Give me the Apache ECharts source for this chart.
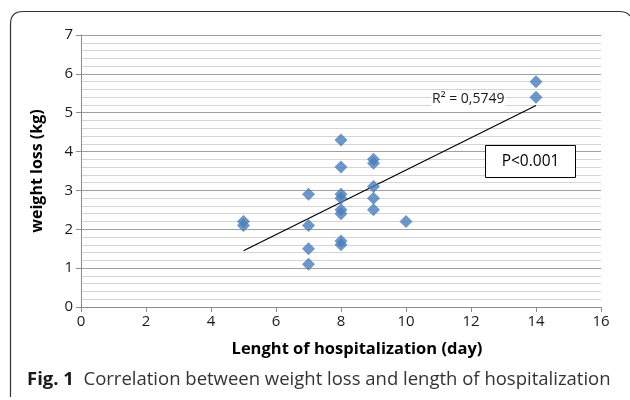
<!DOCTYPE html>
<html><head><meta charset="utf-8">
<script src="https://cdn.jsdelivr.net/npm/echarts@6/dist/echarts.min.js"></script>
<style>html,body{margin:0;padding:0;background:#fff}#c{width:630px;height:400px}</style>
</head><body><div id="c"></div>
<script>
var days = [5,5,7,7,7,7,8,8,8,8,8,8,8,8,9,9,9,9,9,10,14,14];
var weightLoss = [2.2,2.1,2.9,2.1,1.5,1.1,4.3,3.6,2.9,2.8,2.5,2.4,1.7,1.6,3.8,3.7,3.1,2.8,2.5,2.2,5.8,5.4];
var xTicks = [0,2,4,6,8,10,12,14,16];
var yTicks = [0,1,2,3,4,5,6,7];
var r2Label = 'R\u00b2 = 0,5749';
var pLabel = 'P<0.001';

// least-squares trendline from the data
var n = days.length, sx=0, sy=0, sxx=0, sxy=0;
for (var i=0;i<n;i++){sx+=days[i];sy+=weightLoss[i];sxx+=days[i]*days[i];sxy+=days[i]*weightLoss[i];}
var slope=(n*sxy-sx*sy)/(n*sxx-sx*sx), icpt=(sy-slope*sx)/n;
var xMin=Math.min.apply(null,days), xMax=Math.max.apply(null,days);
var trend=[[xMin,icpt+slope*xMin],[xMax,icpt+slope*xMax]];
var pts = days.map(function(d,i){return [d,weightLoss[i]];});

var font='"Open Sans", "Noto Sans", sans-serif';
var frameStyle={fill:null,stroke:'#333',lineWidth:1.2};
var chart=echarts.init(document.getElementById('c'),null,{renderer:'canvas'});
chart.setOption({
  animation:false,
  grid:{left:81,right:29,top:35,bottom:93,containLabel:false},
  xAxis:{type:'value',min:xTicks[0],max:xTicks[xTicks.length-1],interval:2,
    axisLine:{show:true,lineStyle:{color:'#8c8c8c',width:1}},
    axisTick:{show:true,length:5,lineStyle:{color:'#8c8c8c'}},
    splitLine:{show:false},
    axisLabel:{color:'#1a1a1a',fontSize:15,fontFamily:font,margin:7},
    name:'Lenght of hospitalization (day)',nameLocation:'middle',nameGap:34,
    nameTextStyle:{color:'#000',fontSize:16.5,fontWeight:'bold',fontFamily:font,padding:[0,0,0,32]}},
  yAxis:{type:'value',min:yTicks[0],max:yTicks[yTicks.length-1],interval:1,
    axisLine:{show:true,lineStyle:{color:'#8c8c8c',width:1}},
    axisTick:{show:true,length:5,lineStyle:{color:'#8c8c8c'}},
    splitLine:{show:true,lineStyle:{color:'#a0a0a0',width:1}},
    minorTick:{show:false,splitNumber:5},
    minorSplitLine:{show:true,lineStyle:{color:'#d4d4d4',width:1}},
    axisLabel:{color:'#1a1a1a',fontSize:15,fontFamily:font,margin:8},
    name:'weight loss (kg)',nameLocation:'middle',nameGap:36,nameRotate:90,
    nameTextStyle:{color:'#000',fontSize:16,fontWeight:'bold',fontFamily:font}},
  series:[
    {type:'line',data:trend,symbol:'none',lineStyle:{color:'#000',width:1.2},z:3,silent:true},
    {type:'scatter',data:pts,symbol:'diamond',symbolSize:13,itemStyle:{color:'#4a7dbb'},z:4}
  ],
  graphic:[
    {type:'polyline',shape:{points:[[10.5,397],[10.5,24]]},style:frameStyle,silent:true},
    {type:'bezierCurve',shape:{x1:10.5,y1:24,cpx1:10.5,cpy1:11.5,x2:23,y2:11.5},style:frameStyle,silent:true},
    {type:'polyline',shape:{points:[[23,11.5],[619,11.5]]},style:frameStyle,silent:true},
    {type:'bezierCurve',shape:{x1:619,y1:11.5,cpx1:627,cpy1:11.5,x2:630,y2:16},style:frameStyle,silent:true},
    {type:'text',left:431,top:91,z:10,style:{text:r2Label,fill:'#1a1a1a',font:'14px '+font,backgroundColor:'#fff',padding:[1,1,1,1]}},
    {type:'rect',shape:{x:485.5,y:145.5,width:90,height:32},style:{fill:'#fff',stroke:'#000',lineWidth:1},z:10},
    {type:'text',x:530.5,y:161.5,style:{text:pLabel,fill:'#000',font:'15.5px '+font,align:'center',verticalAlign:'middle'},z:11},
    {type:'text',left:27,top:370,style:{rich:{b:{fontWeight:'bold',fontSize:18.5,fontFamily:font,fill:'#1a1a1a'},r:{fontSize:18.5,fontFamily:font,fill:'#333'}},
      text:'{b|Fig. 1}{r|  Correlation between weight loss and length of hospitalization}'}}
  ]
});
</script></body></html>
